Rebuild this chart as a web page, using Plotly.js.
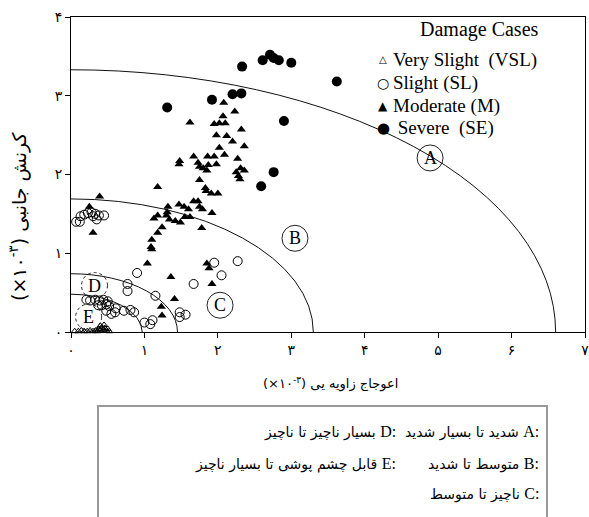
<!DOCTYPE html>
<html><head><meta charset="utf-8">
<script src="https://cdn.plot.ly/plotly-3.0.1.min.js"></script>
<style>body{margin:0;background:#fff}#chart{width:589px;height:517px}</style>
</head><body><div id="chart"></div>
<script>
// ---- data (x: angular distortion x10^-3, y: lateral strain x10^-3) ----
const vslX = [0.05,0.10,0.14,0.18,0.22,0.26,0.30,0.34,0.36,0.38,0.40,0.42,0.44,0.46,0.48,0.50,0.52,0.40,0.45];
const vslY = [0.01,0.01,0.02,0.01,0.01,0.02,0.01,0.02,0.01,0.04,0.02,0.06,0.03,0.05,0.02,0.04,0.01,0.08,0.09];

const slX = [0.07,0.12,0.13,0.18,0.23,0.28,0.33,0.35,0.38,0.45,0.30,
  2.27,1.95,2.05,1.67,0.90,0.77,0.77,1.15,
  0.21,0.26,0.33,0.39,0.44,0.50,
  0.37,0.42,0.48,0.52,
  0.48,0.55,0.60,0.61,
  0.72,0.81,0.86,
  1.00,1.08,1.11,
  1.48,1.56,1.48];
const slY = [1.40,1.40,1.47,1.49,1.51,1.52,1.50,1.43,1.48,1.48,1.47,
  0.90,0.88,0.72,0.61,0.75,0.61,0.52,0.46,
  0.41,0.40,0.41,0.40,0.41,0.39,
  0.34,0.34,0.35,0.33,
  0.27,0.23,0.25,0.30,
  0.27,0.28,0.25,
  0.12,0.10,0.15,
  0.25,0.22,0.19];

const modX = [1.62,2.08,2.23,2.07,1.95,2.02,2.10,2.32,1.98,2.12,2.20,2.36,2.02,2.09,2.27,1.67,1.86,1.95,
  1.48,1.47,1.73,1.98,1.75,1.80,1.87,1.85,2.25,2.31,2.36,2.28,2.30,1.75,1.18,1.83,1.84,1.91,2.00,
  0.39,1.67,1.73,1.47,1.54,1.60,1.32,1.75,1.79,0.25,1.31,1.30,1.92,1.18,1.55,1.62,1.13,1.34,1.42,1.49,
  1.24,1.78,0.30,1.18,1.10,1.09,1.10,1.04,1.85,1.88,1.36,1.92,1.41,1.23,1.24];
const modY = [2.66,2.91,2.80,2.74,2.64,2.65,2.65,2.57,2.50,2.49,2.42,2.36,2.34,2.25,2.20,2.23,2.23,2.23,
  2.17,2.13,2.15,2.13,2.10,2.08,2.12,2.05,2.03,2.08,2.05,1.98,1.94,1.93,1.84,1.83,1.79,1.76,1.76,
  1.72,1.66,1.66,1.62,1.59,1.56,1.59,1.59,1.56,1.59,1.52,1.48,1.51,1.48,1.46,1.46,1.44,1.43,1.41,1.39,
  1.33,1.32,1.26,1.26,1.17,1.08,1.05,0.87,0.87,0.81,0.70,0.61,0.42,0.32,0.21];

const sevX = [1.31,1.92,2.20,2.32,2.33,2.61,2.71,2.76,2.83,3.00,3.62,2.90,2.76,2.59];
const sevY = [2.85,2.95,3.02,3.03,3.37,3.45,3.52,3.48,3.45,3.42,3.18,2.68,2.03,1.85];

const seriesNames = ['Very Slight\u00a0\u00a0(VSL)','Slight (SL)','Moderate (M)','\u00a0Severe\u00a0\u00a0(SE)'];
const legendGlyphs = ['△','○','▲','●'];

// damage zone boundaries (quarter ellipses): semi-axes
const zoneNames = ['A','B','C','D'];
const zoneSemiX = [6.6, 3.3, 1.45, 0.97];
const zoneSemiY = [3.33, 1.69, 0.74, 0.48];

const xTickVals = [0,1,2,3,4,5,6,7];
const xTickText = ['۰','۱','۲','۳','۴','۵','۶','۷'];
const yTickVals = [0,1,2,3,4];
const yTickText = ['۰','۱','۲','۳','۴'];

const zoneDescLabels = ['A:','B:','C:','D:','E:'];
const zoneDescTexts = ['شدید تا بسیار شدید','متوسط تا شدید','ناچیز تا متوسط','بسیار ناچیز تا ناچیز','قابل چشم پوشی تا بسیار ناچیز'];

const xTitleFa = 'اعوجاج زاویه یی';
const yTitleFa = 'کرنش جانبی';
const legendTitle = 'Damage Cases';

// ---- traces ----
const traces = [
  {x: vslX, y: vslY, name: seriesNames[0], type:'scatter', mode:'markers', cliponaxis:false,
   marker:{symbol:'triangle-up-open', size:6, color:'#000', line:{width:1,color:'#000'}}},
  {x: slX, y: slY, name: seriesNames[1], type:'scatter', mode:'markers', cliponaxis:false,
   marker:{symbol:'circle-open', size:9, color:'#000', line:{width:1,color:'#000'}}},
  {x: modX, y: modY, name: seriesNames[2], type:'scatter', mode:'markers', cliponaxis:false,
   marker:{symbol:'triangle-up', size:8, color:'#000'}},
  {x: sevX, y: sevY, name: seriesNames[3], type:'scatter', mode:'markers', cliponaxis:false,
   marker:{symbol:'circle', size:10, color:'#000'}}
];

// ---- layout geometry helpers ----
const ML = 71, MR = 4, MT = 17, MB = 185, W = 589, H = 517;
const PW = W - ML - MR, PH = H - MT - MB;
const px2x = px => (px-ML)/PW, px2y = py => (H-MB-py)/PH;

// ---- shapes ----
const shapes = zoneSemiX.map((a,i)=>({type:'circle', xref:'x', yref:'y',
  x0:-a, x1:a, y0:-zoneSemiY[i], y1:zoneSemiY[i], line:{color:'#111', width:1}}));

const labelPos = [
  {t:'A', x:4.89, y:2.21, dash:'solid'},
  {t:'B', x:3.05, y:1.19, dash:'solid'},
  {t:'C', x:2.03, y:0.34, dash:'solid'},
  {t:'D', x:0.32, y:0.59, dash:'dot'},
  {t:'E', x:0.24, y:0.19, dash:'dot'}
];
labelPos.forEach(p=>{
  shapes.push({type:'circle', xref:'x', yref:'y', xsizemode:'pixel', ysizemode:'pixel',
    xanchor:p.x, yanchor:p.y, x0:-13, x1:13, y0:-13, y1:13, line:{color:'#222', width:1, dash:p.dash}});
});
// bottom description box
shapes.push({type:'rect', xref:'paper', yref:'paper', x0:px2x(98), x1:px2x(547),
  y0:px2y(530), y1:px2y(406), line:{color:'#999', width:2}, fillcolor:'rgba(0,0,0,0)'});

// ---- annotations ----
const annotations = [];
labelPos.forEach(p=>{
  annotations.push({x:p.x, y:p.y, xref:'x', yref:'y', text:p.t, showarrow:false,
    font:{family:'Liberation Serif', size:18, color:'#000'}, xanchor:'center', yanchor:'middle'});
});
// legend (title, symbols, names)
annotations.push({xref:'paper', yref:'paper', x:px2x(479), y:px2y(30), text:legendTitle,
  showarrow:false, xanchor:'center', yanchor:'middle', font:{family:'Liberation Serif', size:20, color:'#000'}});
const legRowY = [60, 83, 106, 128];
const glyphSize = [10, 14, 12, 15];
seriesNames.forEach((n,i)=>{
  annotations.push({xref:'paper', yref:'paper', x:px2x(383), y:px2y(legRowY[i]), text:legendGlyphs[i],
    showarrow:false, xanchor:'center', yanchor:'middle', font:{family:'DejaVu Sans', size:glyphSize[i], color:'#000'}});
  annotations.push({xref:'paper', yref:'paper', x:px2x(391), y:px2y(legRowY[i]), text:n,
    showarrow:false, xanchor:'left', yanchor:'middle', font:{family:'Liberation Serif', size:19, color:'#000'}});
});
// axis titles
annotations.push({xref:'paper', yref:'paper', x:px2x(330), y:px2y(383),
  text:'(×۱۰<sup>-۳</sup>) ' + xTitleFa, showarrow:false, xanchor:'center', yanchor:'middle',
  font:{family:'DejaVu Sans', size:13, color:'#000'}});
annotations.push({xref:'paper', yref:'paper', x:px2x(18), y:px2y(216),
  text:'(×۱۰<sup>-۳</sup>) ' + yTitleFa, showarrow:false, textangle:-90, xanchor:'center', yanchor:'middle',
  font:{family:'DejaVu Sans', size:19, color:'#000'}});
// description rows
const rowY = [432, 464, 494, 432, 464];
const rowR = [541, 541, 541, 398, 398];
zoneDescTexts.forEach((t,i)=>{
  annotations.push({xref:'paper', yref:'paper', x:px2x(rowR[i]), y:px2y(rowY[i]),
    text: t + ' <span style="font-family:Liberation Serif;font-size:16px">' + zoneDescLabels[i] + '</span>',
    showarrow:false, xanchor:'right', yanchor:'middle', font:{family:'DejaVu Sans', size:14, color:'#000'}});
});

const axisCommon = {ticks:'outside', ticklen:5, tickcolor:'#000', showline:true, linecolor:'#000', linewidth:1,
  mirror:true, showgrid:false, zeroline:false, ticklabeloverflow:'allow',
  tickfont:{family:'DejaVu Sans', size:14, color:'#000'}};

const layout = {
  width:W, height:H, margin:{l:ML, r:MR, t:MT, b:MB},
  paper_bgcolor:'#fff', plot_bgcolor:'#fff',
  showlegend:false,
  xaxis:Object.assign({range:[0,7], tickvals:xTickVals, ticktext:xTickText}, axisCommon),
  yaxis:Object.assign({range:[0,4], tickvals:yTickVals, ticktext:yTickText}, axisCommon),
  shapes: shapes,
  annotations: annotations
};

Plotly.newPlot('chart', traces, layout, {displayModeBar:false, staticPlot:true});
</script>
</body></html>
